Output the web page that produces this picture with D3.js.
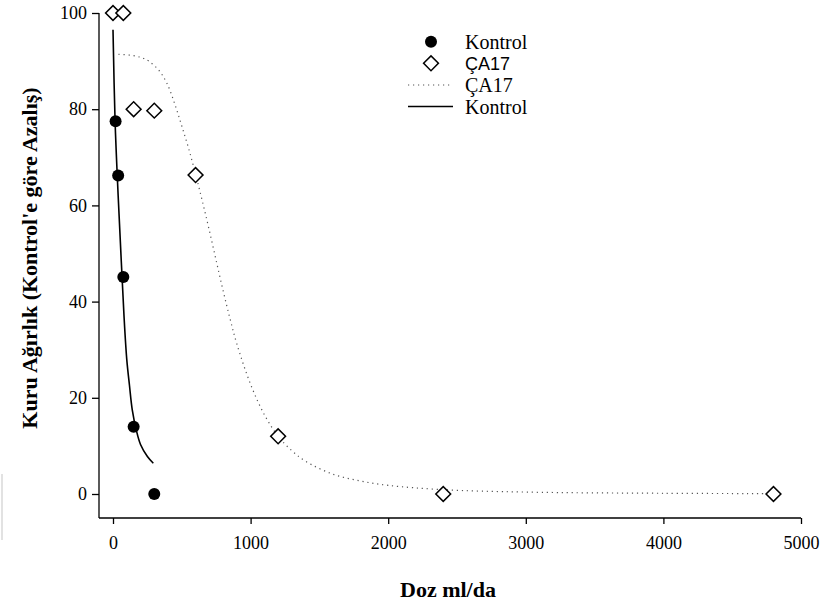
<!DOCTYPE html>
<html>
<head>
<meta charset="utf-8">
<script src="https://cdn.jsdelivr.net/npm/d3@7"></script>
<style>
  body { margin: 0; background: #fff; }
  svg text { font-family: "Liberation Serif", "Times New Roman", serif; fill: #000; }
</style>
</head>
<body>
<div id="chart"></div>
<script>
// veriler
const kontrolDoz = [18.75, 37.5, 75, 150, 300];
const kontrolDeger = [77.5, 66.2, 45.1, 14, 0];

const ca17Doz = [0, 75, 150, 300, 600, 1200, 2400, 4800];
const ca17Deger = [100, 100, 80, 79.7, 66.3, 12, 0, 0];

// uydurulmus egriler (resimden okunan noktalar)
const kontrolEgriDoz = [0, 15, 37.5, 60, 80, 100, 120, 140, 170, 200, 250, 293];
const kontrolEgriDeger = [96.5, 77.6, 62, 48.5, 37, 28, 22.5, 17.5, 13.2, 10.3, 7.8, 6.4];

const ca17EgriDoz = [40, 135, 210, 260, 330, 390, 450, 500, 550, 600, 650, 700, 750, 800, 850, 900, 1000, 1100, 1200, 1300, 1400, 1600, 1800, 2000, 2400, 3000, 4000, 4800];
const ca17EgriDeger = [91.4, 91.2, 90.7, 90, 88.2, 85.5, 81, 76.5, 71.8, 66.5, 60.8, 54.8, 48.5, 42.3, 36.5, 31.2, 22.8, 16.5, 12, 9, 6.8, 4.1, 2.7, 1.8, 0.9, 0.4, 0.15, 0.08];

const xTicks = [0, 1000, 2000, 3000, 4000, 5000];
const yTicks = [0, 20, 40, 60, 80, 100];

const legendEtiket = ["Kontrol", "ÇA17", "ÇA17", "Kontrol"];

const W = 822, H = 608;
const svg = d3.select("#chart").append("svg")
    .attr("width", W).attr("height", H);

const x = d3.scaleLinear().domain([0, 5000]).range([113, 801]);
const y = d3.scaleLinear().domain([0, 100]).range([494, 13]);

const axisX0 = 99, axisY0 = 518;

// eksen cizgileri
svg.append("line").attr("x1", axisX0).attr("x2", axisX0).attr("y1", y(100)).attr("y2", axisY0)
    .attr("stroke", "#000").attr("stroke-width", 1.3);
svg.append("line").attr("x1", axisX0).attr("x2", x(5000)).attr("y1", axisY0).attr("y2", axisY0)
    .attr("stroke", "#000").attr("stroke-width", 1.3);

// X ekseni
const gx = svg.append("g")
    .attr("transform", `translate(0,${axisY0})`)
    .call(d3.axisBottom(x).tickValues(xTicks).tickSize(6).tickPadding(12).tickFormat(d3.format("d")));
gx.select(".domain").remove();
gx.selectAll(".tick line").attr("stroke", "#000").attr("stroke-width", 1.3);
gx.selectAll("text").style("font-size", "18px").style("font-family", "Liberation Serif");

// Y ekseni
const gy = svg.append("g")
    .attr("transform", `translate(${axisX0},0)`)
    .call(d3.axisLeft(y).tickValues(yTicks).tickSize(7).tickPadding(5));
gy.select(".domain").remove();
gy.selectAll(".tick line").attr("stroke", "#000").attr("stroke-width", 1.3);
gy.selectAll("text").style("font-size", "18px").style("font-family", "Liberation Serif");

// eksen basliklari
svg.append("text")
    .attr("x", 448).attr("y", 597)
    .attr("text-anchor", "middle")
    .style("font-size", "22px").style("font-weight", "bold")
    .text("Doz ml/da");

svg.append("text")
    .attr("transform", `translate(37,258) rotate(-90)`)
    .attr("text-anchor", "middle")
    .style("font-size", "22px").style("font-weight", "bold")
    .text("Kuru Ağırlık (Kontrol'e göre Azalış)");

// egriler
const line = d3.line().x(d => x(d[0])).y(d => y(d[1])).curve(d3.curveCatmullRom.alpha(0.5));

svg.append("path")
    .datum(d3.zip(ca17EgriDoz, ca17EgriDeger))
    .attr("d", line)
    .attr("fill", "none").attr("stroke", "#555").attr("stroke-width", 1.2)
    .attr("stroke-dasharray", "1.2,3.8");

svg.append("path")
    .datum(d3.zip(kontrolEgriDoz, kontrolEgriDeger))
    .attr("d", line)
    .attr("fill", "none").attr("stroke", "#000").attr("stroke-width", 1.6);

// noktalar
const diamond = d3.symbol().type(d3.symbolSquare).size(110);

svg.selectAll(".ca17")
    .data(d3.zip(ca17Doz, ca17Deger))
    .join("path")
    .attr("class", "ca17")
    .attr("d", diamond)
    .attr("transform", d => `translate(${x(d[0])},${y(d[1])}) rotate(45)`)
    .attr("fill", "#fff").attr("stroke", "#000").attr("stroke-width", 1.5);

svg.selectAll(".kontrol")
    .data(d3.zip(kontrolDoz, kontrolDeger))
    .join("circle")
    .attr("class", "kontrol")
    .attr("cx", d => x(d[0])).attr("cy", d => y(d[1]))
    .attr("r", 6).attr("fill", "#000");

// lejant
const legY = [41.7, 63.3, 85, 106.5];
const lg = svg.append("g");
lg.append("circle").attr("cx", 431).attr("cy", legY[0]).attr("r", 6).attr("fill", "#000");
lg.append("path").attr("d", diamond)
    .attr("transform", `translate(431,${legY[1]}) rotate(45)`)
    .attr("fill", "#fff").attr("stroke", "#000").attr("stroke-width", 1.5);
lg.append("line").attr("x1", 408).attr("x2", 453).attr("y1", legY[2]).attr("y2", legY[2])
    .attr("stroke", "#555").attr("stroke-width", 1.2).attr("stroke-dasharray", "1.2,3.8");
lg.append("line").attr("x1", 408).attr("x2", 453).attr("y1", legY[3]).attr("y2", legY[3])
    .attr("stroke", "#000").attr("stroke-width", 1.6);

lg.selectAll("text")
    .data(legendEtiket)
    .join("text")
    .attr("x", 465)
    .attr("y", (d, i) => legY[i])
    .attr("dy", "0.35em")
    .style("font-size", (d, i) => i === 1 ? "18px" : "20px")
    .style("font-family", (d, i) => i === 1 ? "Liberation Sans" : "Liberation Serif")
    .text(d => d);

// sol alttaki soluk cizgi
svg.append("line").attr("x1", 2).attr("x2", 2).attr("y1", 474).attr("y2", 540)
    .attr("stroke", "#e2e2e2").attr("stroke-width", 2);
</script>
</body>
</html>
